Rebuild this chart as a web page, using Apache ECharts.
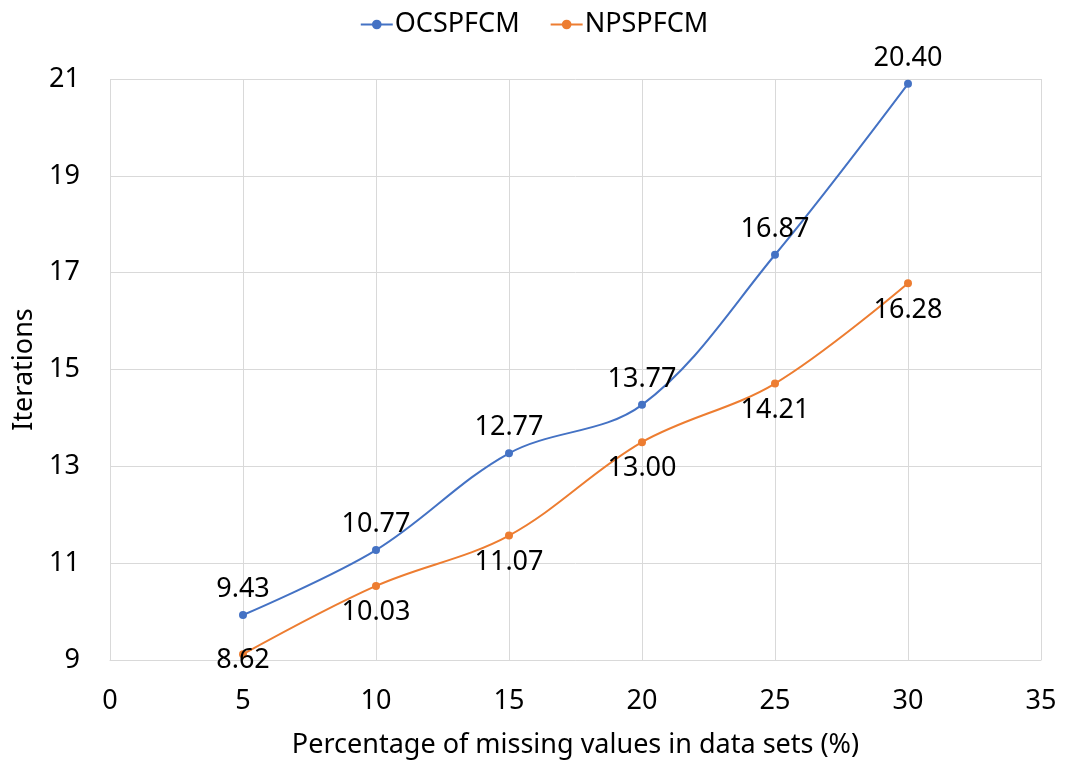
<!DOCTYPE html>
<html>
<head>
<meta charset="utf-8">
<script src="https://cdn.jsdelivr.net/npm/echarts@6/dist/echarts.min.js"></script>
<style>
  html, body { margin: 0; padding: 0; background: #fff; }
  #chart { width: 1068px; height: 768px; }
</style>
</head>
<body>
<div id="chart"></div>
<script>
// missing value percentage (x)
var xValues = [5, 10, 15, 20, 25, 30];
// plotted positions
var ocspfcmPos = [9.93, 11.27, 13.27, 14.27, 17.37, 20.90];
var npspfcmPos = [9.12, 10.53, 11.57, 13.50, 14.71, 16.78];
// data labels as printed on the chart
var ocspfcmLabels = ['9.43', '10.77', '12.77', '13.77', '16.87', '20.40'];
var npspfcmLabels = ['8.62', '10.03', '11.07', '13.00', '14.21', '16.28'];

var seriesNames = ['OCSPFCM', 'NPSPFCM'];
var FONT = 'Noto Sans';
var FS = 27;

function pairs(ys) {
    return xValues.map(function (x, i) { return [x, ys[i]]; });
}

var npData = pairs(npspfcmPos).map(function (p, i) {
    // first label sits closer to the point (pushed up by the axis)
    return i === 0 ? { value: p, label: { offset: [0, -20] } } : { value: p };
});

var myChart = echarts.init(document.getElementById('chart'));
myChart.setOption({
    animation: false,
    textStyle: { fontFamily: FONT },
    legend: {
        top: 6,
        left: 'center',
        itemWidth: 32,
        itemHeight: 12,
        itemGap: 30,
        textStyle: { fontSize: FS, color: '#000', fontFamily: FONT, padding: [0, 0, 0, -3] },
        data: seriesNames
    },
    grid: { left: 110, right: 27, top: 79, bottom: 108, outerBoundsMode: 'none', containLabel: false },
    xAxis: {
        type: 'value',
        min: 0, max: 35, interval: 5,
        name: 'Percentage of missing values in data sets (%)',
        nameLocation: 'middle',
        nameGap: 72,
        nameTextStyle: { fontSize: FS, color: '#000' },
        axisLine: { show: true, lineStyle: { color: '#d9d9d9' } },
        axisTick: { show: false },
        axisLabel: { fontSize: FS, color: '#000', margin: 28 },
        splitLine: { show: true, lineStyle: { color: '#d9d9d9' } }
    },
    yAxis: {
        type: 'value',
        min: 9, max: 21, interval: 2,
        name: 'Iterations',
        nameLocation: 'middle',
        nameGap: 70,
        nameTextStyle: { fontSize: FS, color: '#000' },
        axisLine: { show: false },
        axisTick: { show: false },
        axisLabel: { fontSize: FS, color: '#000', margin: 30 },
        splitLine: { show: true, lineStyle: { color: '#d9d9d9' } }
    },
    series: [
        {
            name: seriesNames[0],
            type: 'line',
            smooth: 0.35,
            symbol: 'circle',
            symbolSize: 8,
            lineStyle: { color: '#4472C4', width: 2 },
            itemStyle: { color: '#4472C4' },
            label: {
                show: true,
                position: 'top',
                distance: 8,
                fontSize: FS,
                color: '#000',
                formatter: function (p) { return ocspfcmLabels[p.dataIndex]; }
            },
            data: pairs(ocspfcmPos)
        },
        {
            name: seriesNames[1],
            type: 'line',
            smooth: 0.35,
            symbol: 'circle',
            symbolSize: 8,
            lineStyle: { color: '#ED7D31', width: 2 },
            itemStyle: { color: '#ED7D31' },
            label: {
                show: true,
                position: 'bottom',
                distance: 9,
                fontSize: FS,
                color: '#000',
                formatter: function (p) { return npspfcmLabels[p.dataIndex]; }
            },
            data: npData
        }
    ]
});
</script>
</body>
</html>
